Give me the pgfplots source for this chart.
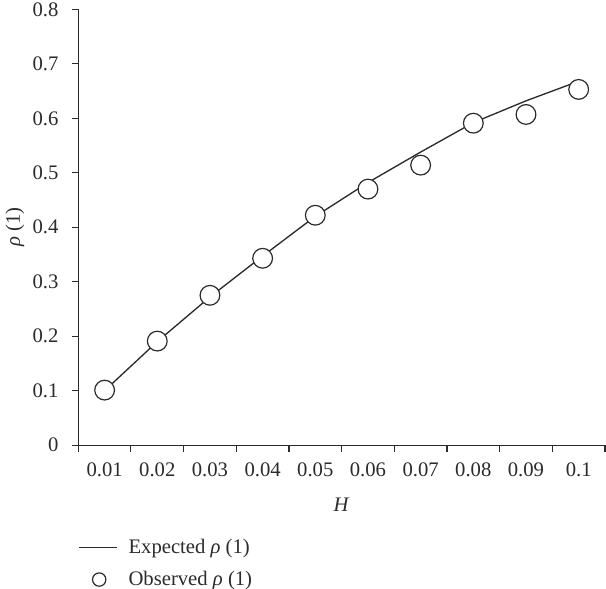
\documentclass[border=0pt]{standalone}
\usepackage{pgfplots}
\pgfplotsset{compat=1.18}
\usepackage{fontspec}
\setmainfont{Liberation Serif}
\definecolor{ink}{HTML}{2B2B2B}
\pgfplotsset{
    lineleg/.style={legend image code/.code={\draw[##1] (0pt,0pt) -- (28.5pt,0pt);}},
    markleg/.style={legend image code/.code={\path (0pt,0pt) (28.5pt,0pt);
        \draw[##1, mark size=5pt] plot coordinates {(15pt,0pt)};}},
}
\begin{document}
\fontsize{15.5}{18}\selectfont
\begin{tikzpicture}
\begin{axis}[
    name=ax,
    at={(0,0)}, anchor=south west,
    scale only axis,
    width=395pt, height=326.8pt,
    xmin=0.005, xmax=0.105,
    ymin=0, ymax=0.8,
    axis x line*=bottom,
    axis y line*=left,
    axis line style={line width=0.8pt, ink},
    xtick={0.005,0.015,0.025,0.035,0.045,0.055,0.065,0.075,0.085,0.095,0.105},
    xticklabels={0.01,0.02,0.03,0.04,0.05,0.06,0.07,0.08,0.09,0.1,{}},
    ytick={0,0.1,0.2,0.3,0.4,0.5,0.6,0.7,0.8},
    yticklabels={0,0.1,0.2,0.3,0.4,0.5,0.6,0.7,0.8},
    tick align=outside,
    major tick length=5pt,
    tick style={line width=0.8pt, ink},
    xticklabel style={anchor=center, xshift=19.75pt, yshift=-13.5pt, text=ink},
    yticklabel style={anchor=east, xshift=-4.5pt, text=ink},
    xlabel={\textit{H}},
    ylabel={\textit{ρ} (1)},
    xlabel style={at={(axis description cs:0.5,0)}, anchor=center, yshift=-45pt, text=ink},
    ylabel style={at={(axis description cs:0,0.5)}, anchor=center, yshift=47.5pt, text=ink},
    legend style={at={(axis description cs:0,0)}, anchor=north west, yshift=-68pt,
        draw=none, fill=none, inner sep=0pt, row sep=7pt, text=ink,
        font=\fontsize{15.5}{18}\selectfont,
        /tikz/every odd column/.append style={column sep=6pt}},
    legend cell align=left,
    clip=false,
]
\addplot[ink, line width=1pt, lineleg]
coordinates {
(0.01,0.100) (0.02,0.190) (0.03,0.272) (0.04,0.347) (0.05,0.420)
(0.06,0.482) (0.07,0.538) (0.08,0.592) (0.09,0.632) (0.10,0.668)
};
\addlegendentry{Expected \textit{ρ} (1)}
\addplot[only marks, mark=*, mark size=7.4pt,
    mark options={draw=ink, fill=white, line width=0.9pt}, markleg]
coordinates {
(0.01,0.101) (0.02,0.191) (0.03,0.275) (0.04,0.343) (0.05,0.422)
(0.06,0.470) (0.07,0.514) (0.08,0.591) (0.09,0.607) (0.10,0.653)
};
\addlegendentry{Observed \textit{ρ} (1)}
\end{axis}
\pgfresetboundingbox
\path[use as bounding box] ([xshift=-58.7pt,yshift=-107.25pt]ax.south west) rectangle ([xshift=0.75pt,yshift=7pt]ax.north east);
\end{tikzpicture}
\end{document}
